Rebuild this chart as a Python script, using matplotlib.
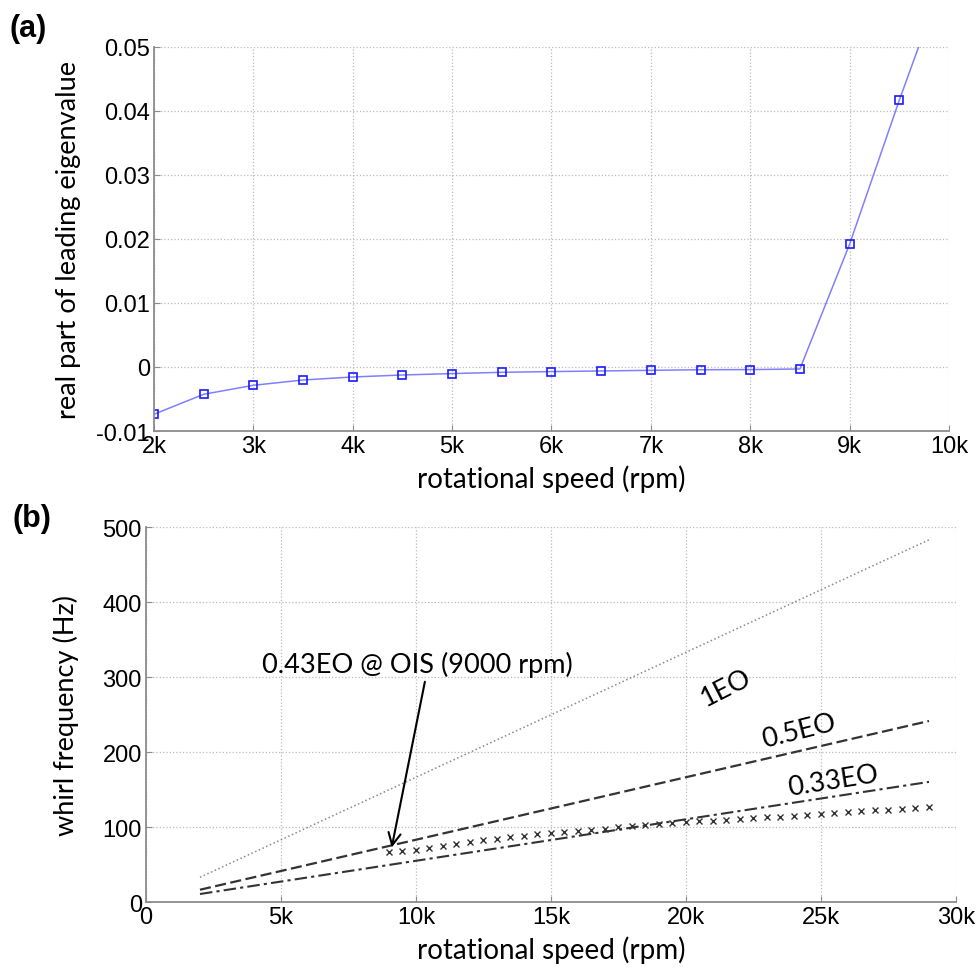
import numpy as np
import matplotlib
matplotlib.use("Agg")
import matplotlib.pyplot as plt

# panel (a): real part of leading eigenvalue vs rotational speed
speed_a = [2000, 2500, 3000, 3500, 4000, 4500, 5000, 5500, 6000, 6500,
           7000, 7500, 8000, 8500, 9000, 9500, 10000]
eig_real = [-0.00738, -0.00426, -0.00286, -0.00203, -0.00156, -0.00125,
            -0.00103, -0.00083, -0.00072, -0.00062, -0.00052, -0.00043,
            -0.00041, -0.00031, 0.01916, 0.04164, 0.0630]

# panel (b): engine-order lines (end points) and whirl frequency
eo_speed = [2000, 29000]
eo_1 = [33.3, 483.3]
eo_05 = [16.7, 241.7]
eo_033 = [11.0, 160.5]

whirl_speed = [9000, 9500, 10000, 10500, 11000, 11500, 12000, 12500, 13000,
               13500, 14000, 14500, 15000, 15500, 16000, 16500, 17000, 17500,
               18000, 18500, 19000, 19500, 20000, 20500, 21000, 21500, 22000,
               22500, 23000, 23500, 24000, 24500, 25000, 25500, 26000, 26500,
               27000, 27500, 28000, 28500, 29000]
whirl_freq = [66.7, 68.8, 70.1, 72.0, 74.5, 78.0, 80.5, 82.5, 84.4, 86.5,
              88.5, 90.5, 92.0, 93.3, 95.0, 96.5, 98.2, 99.8, 101.3, 102.8,
              104.2, 105.6, 106.8, 108.0, 109.0, 110.1, 111.1, 112.0, 113.3,
              114.3, 115.5, 117.0, 118.0, 119.5, 120.5, 121.5, 122.6, 123.5,
              124.4, 125.3, 126.5]

xticks_a = [2000, 3000, 4000, 5000, 6000, 7000, 8000, 9000, 10000]
xlabels_a = ["2k", "3k", "4k", "5k", "6k", "7k", "8k", "9k", "10k"]
yticks_a = [-0.01, 0, 0.01, 0.02, 0.03, 0.04, 0.05]
ylabels_a = ["-0.01", "0", "0.01", "0.02", "0.03", "0.04", "0.05"]
xticks_b = [0, 5000, 10000, 15000, 20000, 25000, 30000]
xlabels_b = ["0", "5k", "10k", "15k", "20k", "25k", "30k"]
yticks_b = [0, 100, 200, 300, 400, 500]

tick_font = "Liberation Sans"
label_font = "Lato"
spine_col = "#8c8c8c"


def style_axes(ax):
    ax.spines["top"].set_visible(False)
    ax.spines["right"].set_visible(False)
    ax.spines["left"].set_color(spine_col)
    ax.spines["bottom"].set_color(spine_col)
    ax.spines["left"].set_linewidth(1.3)
    ax.spines["bottom"].set_linewidth(1.3)
    ax.grid(True, linestyle=":", color="#bbbbbb", linewidth=0.9)
    ax.tick_params(direction="in", length=4, color=spine_col, labelsize=17,
                   pad=3)
    for t in ax.get_xticklabels() + ax.get_yticklabels():
        t.set_fontfamily(tick_font)


fig = plt.figure(figsize=(9.79, 9.70), dpi=100)

# ---- (a)
ax1 = fig.add_axes([0.1573, 0.5546, 0.812, 0.3962])
ax1.plot(speed_a, eig_real, color="#8080ff", linewidth=1.1, marker="s",
         markersize=5.5, markerfacecolor="none", markeredgecolor="#1a1aff",
         markeredgewidth=1.2, clip_on=True)
ax1.set_xlim(2000, 10000)
ax1.set_ylim(-0.01, 0.05)
ax1.set_xticks(xticks_a)
ax1.set_xticklabels(xlabels_a)
ax1.set_yticks(yticks_a)
ax1.set_yticklabels(ylabels_a)
style_axes(ax1)
ax1.set_xlabel("rotational speed (rpm)", fontfamily=label_font, fontsize=20,
               labelpad=5)
ax1.set_ylabel("real part of leading eigenvalue", fontfamily=label_font,
               fontsize=19.5, labelpad=11)
fig.text(0.010, 0.970, "(a)", fontfamily=tick_font, fontweight="bold",
         fontsize=22, va="center", ha="left")

# ---- (b)
ax2 = fig.add_axes([0.1491, 0.0688, 0.8274, 0.3866])
ax2.plot(eo_speed, eo_1, color="#8a8a8a", linestyle=":", linewidth=1.1)
ax2.plot(eo_speed, eo_05, color="#333333", linestyle=(0, (5, 2)),
         linewidth=1.6)
ax2.plot(eo_speed, eo_033, color="#333333", linestyle=(0, (6, 2, 1.5, 2)),
         linewidth=1.5)
ax2.plot(whirl_speed, whirl_freq, linestyle="none", marker="x", markersize=5,
         markeredgewidth=1.0, color="#333333")
ax2.set_xlim(0, 30000)
ax2.set_ylim(0, 500)
ax2.set_xticks(xticks_b)
ax2.set_xticklabels(xlabels_b)
ax2.set_yticks(yticks_b)
style_axes(ax2)
ax2.set_xlabel("rotational speed (rpm)", fontfamily=label_font, fontsize=20,
               labelpad=5)
ax2.set_ylabel("whirl frequency (Hz)", fontfamily=label_font, fontsize=19.5,
               labelpad=17)
fig.text(0.013, 0.465, "(b)", fontfamily=tick_font, fontweight="bold",
         fontsize=22, va="center", ha="left")

ax2.text(10050, 318, "0.43EO @ OIS (9000 rpm)", fontfamily=label_font,
         fontsize=19.5, ha="center", va="center")
ax2.annotate("", xy=(9100, 73), xytext=(10330, 294),
             arrowprops=dict(arrowstyle="->", color="black", lw=1.5,
                             shrinkA=0, shrinkB=0, mutation_scale=22))
ax2.text(21500, 287, "1EO", fontfamily=label_font, fontsize=19.5, rotation=27,
         ha="center", va="center")
ax2.text(24190, 229, "0.5EO", fontfamily=label_font, fontsize=19.5,
         rotation=14, ha="center", va="center")
ax2.text(25460, 163, "0.33EO", fontfamily=label_font, fontsize=19.5,
         rotation=9, ha="center", va="center")

fig.savefig("out.png", dpi=100)
